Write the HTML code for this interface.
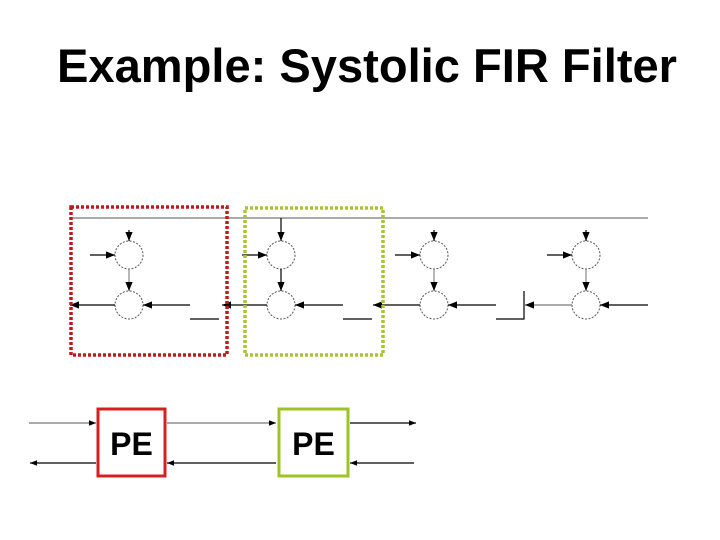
<!DOCTYPE html>
<html><head><meta charset="utf-8"><style>html,body{margin:0;padding:0;background:#fff}svg{display:block}</style></head>
<body>
<svg width="720" height="540" xmlns="http://www.w3.org/2000/svg" font-family="Liberation Sans, sans-serif">
<defs>
<marker id="a" viewBox="0 0 10 10" refX="10" refY="5" markerWidth="9" markerHeight="9" markerUnits="userSpaceOnUse" orient="auto"><path d="M0,1 L10,5 L0,9z" fill="#000"/></marker>
<marker id="b" viewBox="0 0 10 10" refX="10" refY="5" markerWidth="7" markerHeight="7" markerUnits="userSpaceOnUse" orient="auto"><path d="M0,1 L10,5 L0,9z" fill="#000"/></marker>
</defs>
<text x="57" y="82" font-size="47" font-weight="bold" textLength="620" lengthAdjust="spacingAndGlyphs">Example: Systolic FIR Filter</text>

<line x1="70" y1="218" x2="648" y2="218" stroke="#777" stroke-width="1.3"/>
<g fill="none" stroke="#555" stroke-width="1" stroke-dasharray="2,1.5">
<circle cx="129" cy="255" r="14"/><circle cx="129" cy="305" r="14"/>
<circle cx="281" cy="255" r="14"/><circle cx="281" cy="305" r="14"/>
<circle cx="434" cy="255" r="14"/><circle cx="434" cy="305" r="14"/>
<circle cx="586" cy="255" r="14"/><circle cx="586" cy="305" r="14"/>
</g>
<g stroke="#000" stroke-width="1.2" marker-end="url(#a)">
<line x1="129" y1="230" x2="129" y2="241"/>
<line x1="281" y1="218" x2="281" y2="241"/>
<line x1="434" y1="230" x2="434" y2="241"/>
<line x1="586" y1="230" x2="586" y2="241"/>
<line x1="90" y1="255" x2="115" y2="255"/>
<line x1="242" y1="255" x2="267" y2="255"/>
<line x1="395" y1="255" x2="420" y2="255"/>
<line x1="547" y1="255" x2="572" y2="255"/>
<line x1="129" y1="269" x2="129" y2="291" stroke="#888"/>
<line x1="281" y1="269" x2="281" y2="291"/>
<line x1="434" y1="269" x2="434" y2="291" stroke="#888"/>
<line x1="586" y1="269" x2="586" y2="291" stroke="#888"/>
<line x1="115" y1="305" x2="70" y2="305"/>
<line x1="190" y1="305" x2="143" y2="305"/>
<line x1="267" y1="305" x2="222" y2="305"/>
<line x1="343" y1="305" x2="295" y2="305"/>
<line x1="420" y1="305" x2="373" y2="305"/>
<line x1="496" y1="305" x2="448" y2="305"/>
<line x1="572" y1="305" x2="525" y2="305" stroke="#777"/>
<line x1="648" y1="305" x2="600" y2="305"/>
</g>
<g stroke="#000" stroke-width="1.2" fill="none">
<line x1="190" y1="319" x2="219" y2="319"/>
<line x1="343" y1="319" x2="372" y2="319"/>
<polyline points="496,319 524,319 524,291"/>
</g>
<rect x="71" y="207" width="156" height="148" fill="none" stroke="#c0181c" stroke-width="3.5" stroke-dasharray="3,2"/>
<rect x="245" y="208" width="138" height="147" fill="none" stroke="#a8c432" stroke-width="3.5" stroke-dasharray="3,2"/>

<rect x="98" y="409" width="67" height="67" fill="#fff" stroke="#d42020" stroke-width="3"/>
<rect x="279" y="409" width="69" height="67" fill="#fff" stroke="#9cc424" stroke-width="3"/>
<text x="131.5" y="455" font-size="32" font-weight="bold" text-anchor="middle">PE</text>
<text x="313.5" y="455" font-size="32" font-weight="bold" text-anchor="middle">PE</text>
<g stroke-width="1.2" marker-end="url(#b)">
<line x1="29" y1="423" x2="96" y2="423" stroke="#777"/>
<line x1="167" y1="423" x2="276" y2="423" stroke="#777"/>
<line x1="350" y1="423" x2="416" y2="423" stroke="#000"/>
<line x1="96" y1="463" x2="30" y2="463" stroke="#000"/>
<line x1="276" y1="463" x2="167" y2="463" stroke="#000"/>
<line x1="414" y1="463" x2="350" y2="463" stroke="#000"/>
</g>
</svg>
</body></html>
